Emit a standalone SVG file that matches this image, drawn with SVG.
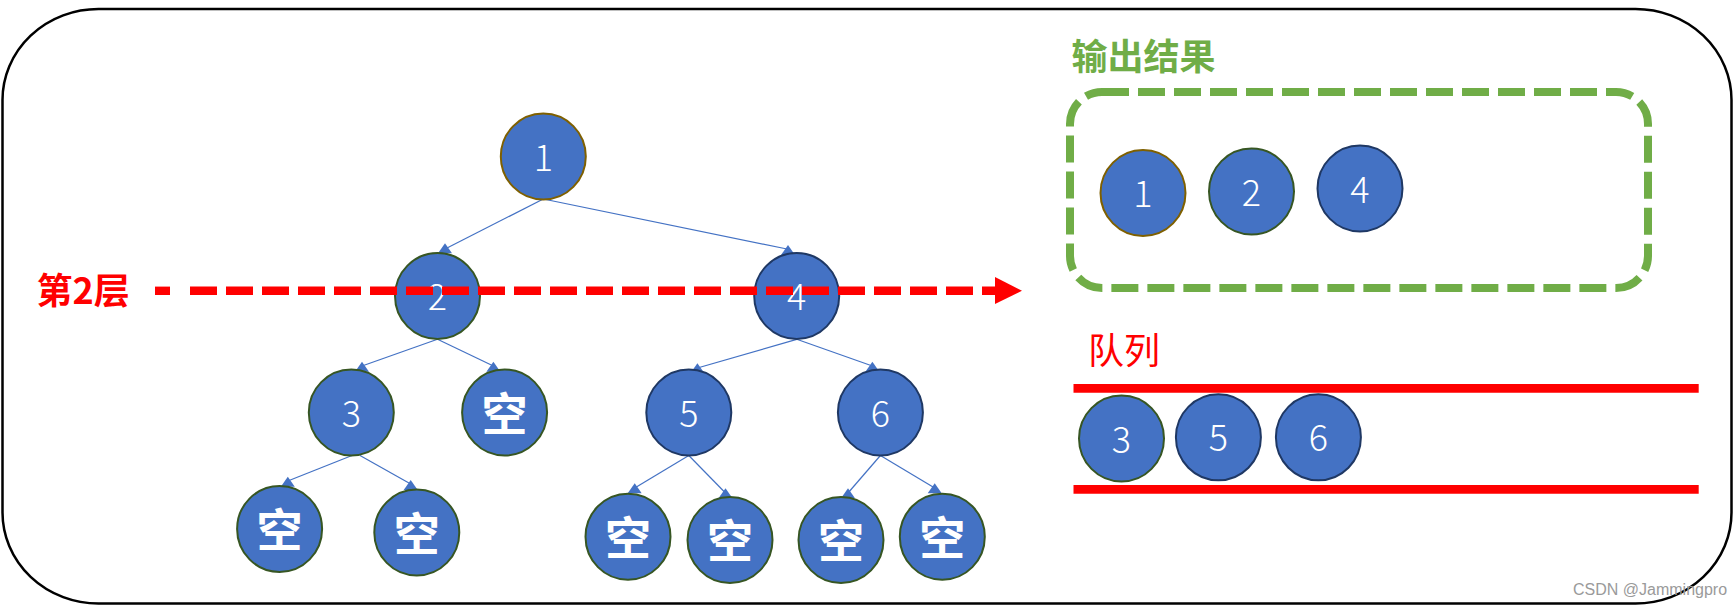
<svg xmlns="http://www.w3.org/2000/svg" xmlns:xlink="http://www.w3.org/1999/xlink" width="1734" height="608" viewBox="0 0 1734 608">
<style>
.nd{fill:#4472c4;stroke-width:2}
.sb{stroke:#7f6000}
.sg{stroke:#375623}
.sn{stroke:#1f3864}
.num{font-family:"Noto Sans CJK SC","Noto Sans",sans-serif;font-weight:300;font-size:36px;fill:#ffffff;text-anchor:middle}
.kong{font-family:"Noto Sans CJK SC",sans-serif;font-weight:bold;font-size:46px;fill:#ffffff;text-anchor:middle}
.edge{stroke:#4472c4;stroke-width:1.2;fill:none}
.ttl{font-family:"Noto Sans CJK SC",sans-serif;font-size:36px}
</style>
<defs>
<path id="ah" d="M0,0 L-7,10 L7,10 Z" fill="#4472c4"/>
</defs>
<rect x="2.5" y="9" width="1729" height="594.5" rx="96" ry="91" fill="#ffffff" stroke="#000000" stroke-width="2.5"/>

<g id="connectors">
<line class="edge" x1="543.3" y1="199" x2="447" y2="248"/>
<use xlink:href="#ah" x="445" y="243.3"/>
<line class="edge" x1="543.3" y1="199" x2="787" y2="249"/>
<use xlink:href="#ah" x="788" y="245"/>
<line class="edge" x1="437.5" y1="339.3" x2="362" y2="366"/>
<use xlink:href="#ah" x="362" y="361.7"/>
<line class="edge" x1="437.5" y1="339.3" x2="493.4" y2="366"/>
<use xlink:href="#ah" x="493.4" y="361.7"/>
<line class="edge" x1="796.7" y1="339.3" x2="697.4" y2="368"/>
<use xlink:href="#ah" x="697.4" y="363.3"/>
<line class="edge" x1="796.7" y1="339.3" x2="872.4" y2="366"/>
<use xlink:href="#ah" x="872.4" y="361.7"/>
<line class="edge" x1="352" y1="455.5" x2="287.8" y2="481"/>
<use xlink:href="#ah" x="287.8" y="476.7"/>
<line class="edge" x1="360" y1="455.5" x2="410.7" y2="484"/>
<use xlink:href="#ah" x="410.7" y="480"/>
<line class="edge" x1="688.8" y1="455.5" x2="634.7" y2="488"/>
<use xlink:href="#ah" x="634.7" y="483.3"/>
<line class="edge" x1="688.8" y1="455.5" x2="725.5" y2="493"/>
<use xlink:href="#ah" x="725.5" y="488.3"/>
<line class="edge" x1="880.4" y1="455.5" x2="848" y2="493"/>
<use xlink:href="#ah" x="848" y="488.3"/>
<line class="edge" x1="880.4" y1="455.5" x2="934.7" y2="488"/>
<use xlink:href="#ah" x="934.7" y="483.3"/>
</g>

<g id="node-1"><ellipse class="nd sb" cx="543.3" cy="156.5" rx="42.5" ry="43"/><text class="num" x="543.3" y="170.5">1</text></g>
<g id="node-2"><ellipse class="nd sg" cx="437.5" cy="296" rx="42.5" ry="43"/><text class="num" x="437.5" y="310">2</text></g>
<g id="node-4"><ellipse class="nd sn" cx="796.7" cy="296" rx="42.5" ry="43"/><text class="num" x="796.7" y="310">4</text></g>
<g id="node-3"><ellipse class="nd sg" cx="351.3" cy="412.5" rx="42.5" ry="43"/><text class="num" x="351.3" y="426.5">3</text></g>
<g id="node-e1"><ellipse class="nd sg" cx="504.6" cy="412.5" rx="42.5" ry="43"/><text class="kong" x="504.6" y="430.5">空</text></g>
<g id="node-5"><ellipse class="nd sn" cx="688.8" cy="412.5" rx="42.5" ry="43"/><text class="num" x="688.8" y="426.5">5</text></g>
<g id="node-6"><ellipse class="nd sn" cx="880.4" cy="412.5" rx="42.5" ry="43"/><text class="num" x="880.4" y="426.5">6</text></g>
<g id="node-e2"><ellipse class="nd sg" cx="279.6" cy="529" rx="42.5" ry="43"/><text class="kong" x="279.6" y="547">空</text></g>
<g id="node-e3"><ellipse class="nd sg" cx="416.8" cy="532.5" rx="42.5" ry="43"/><text class="kong" x="416.8" y="550.5">空</text></g>
<g id="node-e4"><ellipse class="nd sg" cx="628" cy="536.7" rx="42.5" ry="43"/><text class="kong" x="628" y="554.7">空</text></g>
<g id="node-e5"><ellipse class="nd sg" cx="730" cy="540" rx="42.5" ry="43"/><text class="kong" x="730" y="558">空</text></g>
<g id="node-e6"><ellipse class="nd sg" cx="841" cy="540" rx="42.5" ry="43"/><text class="kong" x="841" y="558">空</text></g>
<g id="node-e7"><ellipse class="nd sg" cx="942.3" cy="536.7" rx="42.5" ry="43"/><text class="kong" x="942.3" y="554.7">空</text></g>

<g id="level-marker">
<text class="ttl" x="36.5" y="304" fill="#ff0000" font-weight="bold">第2层</text>
<rect x="155" y="286.6" width="15" height="8.4" fill="#ff0000"/>
<line x1="190" y1="290.8" x2="997" y2="290.8" stroke="#ff0000" stroke-width="8.4" stroke-dasharray="27 9"/>
<polygon points="995,277 1022,290.8 995,304" fill="#ff0000"/>
</g>

<g id="output">
<text class="ttl" x="1071.5" y="69.5" fill="#70ad47" font-weight="bold">输出结果</text>
<rect x="1070" y="92" width="578" height="196" rx="32" ry="32" fill="none" stroke="#70ad47" stroke-width="8" stroke-dasharray="27 9"/>
<g id="out-1"><ellipse class="nd sb" cx="1143" cy="193" rx="42.5" ry="43"/><text class="num" x="1143" y="207">1</text></g>
<g id="out-2"><ellipse class="nd sg" cx="1251.5" cy="191.5" rx="42.5" ry="43"/><text class="num" x="1251.5" y="205.5">2</text></g>
<g id="out-4"><ellipse class="nd sn" cx="1360" cy="188.5" rx="42.5" ry="43"/><text class="num" x="1360" y="202.5">4</text></g>
</g>

<g id="queue">
<text class="ttl" x="1088" y="364" fill="#ff0000">队列</text>
<line x1="1073.5" y1="388.3" x2="1698.7" y2="388.3" stroke="#ff0000" stroke-width="8.7"/>
<line x1="1073.5" y1="489.3" x2="1698.7" y2="489.3" stroke="#ff0000" stroke-width="8.7"/>
<g id="q-3"><ellipse class="nd sg" cx="1121.5" cy="438.5" rx="42.5" ry="43"/><text class="num" x="1121.5" y="452.5">3</text></g>
<g id="q-5"><ellipse class="nd sn" cx="1218.4" cy="437.3" rx="42.5" ry="43"/><text class="num" x="1218.4" y="451.3">5</text></g>
<g id="q-6"><ellipse class="nd sn" cx="1318.4" cy="437.3" rx="42.5" ry="43"/><text class="num" x="1318.4" y="451.3">6</text></g>
</g>

<text x="1573" y="594.5" font-family="Liberation Sans,Arial,sans-serif" font-size="16" fill="#9a9a9a">CSDN @Jammingpro</text>
</svg>
